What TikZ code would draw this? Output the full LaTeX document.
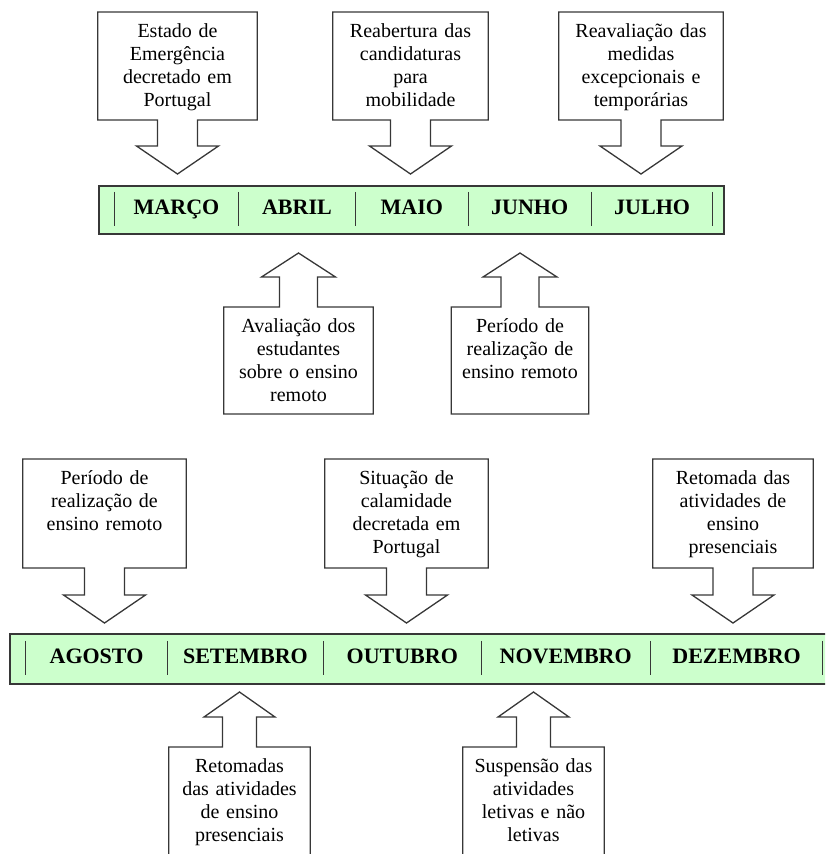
\documentclass[tikz,border=0pt]{standalone}
\usepackage{fontspec}
\setmainfont{Liberation Serif}
\usetikzlibrary{calc,positioning}
\definecolor{barfill}{RGB}{204,255,204}
\definecolor{linegray}{RGB}{55,55,55}
\tikzset{
  evt/.style={anchor=north,align=center,inner xsep=4pt,inner ysep=11pt,font=\fontsize{20}{23.3}\selectfont},
  month/.style={minimum height=34pt,inner sep=0pt,text height=15pt,text depth=4pt,font=\fontsize{22}{24}\selectfont\bfseries},
  bar/.style={draw=linegray,line width=1.6pt,fill=barfill,inner sep=0pt},
  frame/.style={draw=linegray,line width=1.3pt,line join=miter},
  sep/.style={draw=linegray,line width=1pt}
}
% box above the bar, arrow pointing down
\newcommand\calldown[2]{%
  \draw[frame] (#1.north west) -- (#1.north east) -- ($(#1.north east)+(0,#2)$)
    -- ($(#1.north)+(\sw,#2)$) -- ($(#1.north)+(\sw,#2+\sl)$) -- ($(#1.north)+(\hw,#2+\sl)$)
    -- ($(#1.north)+(0,#2+\sl+\hl)$) -- ($(#1.north)+(-\hw,#2+\sl)$) -- ($(#1.north)+(-\sw,#2+\sl)$)
    -- ($(#1.north)+(-\sw,#2)$) -- ($(#1.north west)+(0,#2)$) -- cycle;}
% box below the bar, arrow pointing up
\newcommand\callup[2]{%
  \draw[frame] (#1.north west) -- ($(#1.north)+(-\sw,0)$) -- ($(#1.north)+(-\sw,-\sl)$)
    -- ($(#1.north)+(-\hw,-\sl)$) -- ($(#1.north)+(0,-\sl-\hl)$) -- ($(#1.north)+(\hw,-\sl)$)
    -- ($(#1.north)+(\sw,-\sl)$) -- ($(#1.north)+(\sw,0)$) -- (#1.north east)
    -- ($(#1.north east)+(0,#2)$) -- ($(#1.north west)+(0,#2)$) -- cycle;}
\begin{document}
\begin{tikzpicture}[x=1pt,y=-1pt]
  \path[use as bounding box,clip] (0,0) rectangle (825,854);

  % first semester
  \node[bar,minimum width=625pt,minimum height=48pt,anchor=north west] (bar1) at (98,185) {};
  \node[month,minimum width=123pt] (mar) at (176.5,209) {MARÇO};
  \node[month,minimum width=117pt,right=0pt of mar] (abr) {ABRIL};
  \node[month,minimum width=112pt,right=0pt of abr] (mai) {MAIO};
  \node[month,minimum width=123pt,right=0pt of mai] (jun) {JUNHO};
  \node[month,minimum width=121pt,right=0pt of jun] (jul) {JULHO};
  \foreach \m in {mar,abr,mai,jun,jul}
    \draw[sep] (\m.north west) -- (\m.south west);
  \draw[sep] (jul.north east) -- (jul.south east);

  \def\sw{20}\def\hw{41}\def\sl{26}\def\hl{28}
  \node[evt,text width=151pt] (emerg) at (177.5,12) {Estado de\\Emergência\\decretado em\\Portugal};
  \node[evt,text width=147pt] (reab) at (410.5,12) {Reabertura das\\candidaturas\\para\\mobilidade};
  \node[evt,text width=156pt] (reav) at (641,12) {Reavaliação das\\medidas\\excepcionais e\\temporárias};
  \calldown{emerg}{108}
  \calldown{reab}{108}
  \calldown{reav}{108}

  \def\sw{19}\def\hw{37}\def\sl{30}\def\hl{24}
  \node[evt,text width=141pt] (aval) at (298.5,307) {Avaliação dos\\estudantes\\sobre o ensino\\remoto};
  \node[evt,text width=129pt] (remA) at (520,307) {Período de\\realização de\\ensino remoto};
  \callup{aval}{107}
  \callup{remA}{107}

  % second semester
  \node[bar,minimum width=831pt,minimum height=50pt,anchor=north west] (bar2) at (9,633) {};
  \node[month,minimum width=141pt] (ago) at (96.5,658) {AGOSTO};
  \node[month,minimum width=156pt,right=0pt of ago] (set) {SETEMBRO};
  \node[month,minimum width=157pt,right=0pt of set] (out) {OUTUBRO};
  \node[month,minimum width=169pt,right=0pt of out] (nov) {NOVEMBRO};
  \node[month,minimum width=172pt,right=0pt of nov] (dez) {DEZEMBRO};
  \foreach \m in {ago,set,out,nov,dez}
    \draw[sep] (\m.north west) -- (\m.south west);
  \draw[sep] (dez.north east) -- (dez.south east);

  \def\sw{20}\def\hw{41}\def\sl{27}\def\hl{28}
  \node[evt,text width=155pt] (remB) at (104.5,459) {Período de\\realização de\\ensino remoto};
  \node[evt,text width=155pt] (calam) at (406.5,459) {Situação de\\calamidade\\decretada em\\Portugal};
  \node[evt,text width=152pt] (retom) at (733,459) {Retomada das\\atividades de\\ensino\\presenciais};
  \calldown{remB}{109}
  \calldown{calam}{109}
  \calldown{retom}{109}

  \def\sw{17}\def\hw{35.5}\def\sl{30}\def\hl{25}
  \node[evt,text width=133pt] (retoms) at (239.5,747) {Retomadas\\das atividades\\de ensino\\presenciais};
  \node[evt,text width=133pt] (susp) at (533.5,747) {Suspensão das\\atividades\\letivas e não\\letivas};
  \callup{retoms}{120}
  \callup{susp}{120}
\end{tikzpicture}
\end{document}
